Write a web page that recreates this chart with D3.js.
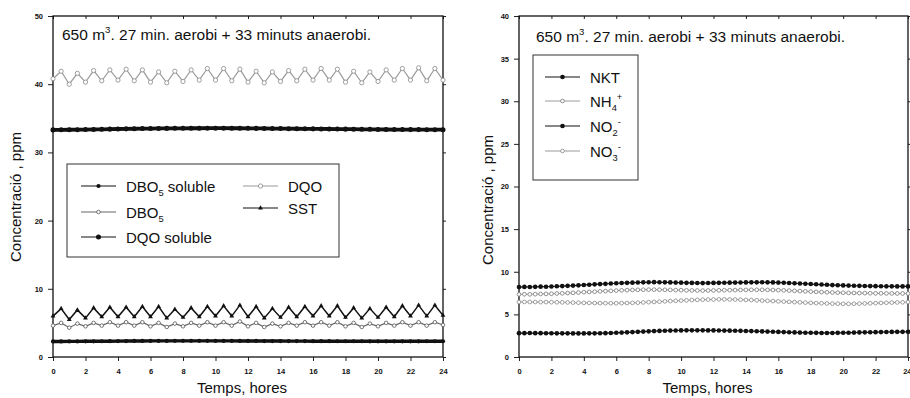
<!DOCTYPE html>
<html>
<head>
<meta charset="utf-8">
<script src="https://cdn.jsdelivr.net/npm/d3@7"></script>
<style>
  body { margin: 0; background: #fff; }
  svg { display: block; }
  text { font-family: "Liberation Sans", Arial, sans-serif; fill: #111; }
</style>
</head>
<body>
<svg id="chart" width="910" height="398"></svg>
<script>
// Sampling times (hours)
const timeHalfHour = d3.range(0, 24.001, 0.5);          // 49 samples
const timeThirdHour = d3.range(0, 73).map(i => i / 3);  // 73 samples

// Axis ticks
const xTicks = [0, 2, 4, 6, 8, 10, 12, 14, 16, 18, 20, 22, 24];
const leftYTicks = [0, 10, 20, 30, 40, 50];
const rightYTicks = [0, 5, 10, 15, 20, 25, 30, 35, 40];

// Organic load series (ppm), every half hour
const dbo5Soluble = [2.28,2.28,2.29,2.29,2.30,2.30,2.31,2.32,2.33,2.34,
  2.35,2.35,2.36,2.36,2.36,2.37,2.37,2.37,2.37,2.37,
  2.36,2.36,2.36,2.35,2.35,2.35,2.34,2.34,2.34,2.33,
  2.33,2.33,2.32,2.32,2.32,2.31,2.31,2.31,2.31,2.30,
  2.30,2.30,2.30,2.30,2.30,2.30,2.31,2.31,2.31];
const dbo5 = [4.6,5.0,4.3,4.9,4.5,5.0,4.6,5.1,4.6,5.1,
  4.6,5.1,4.5,5.0,4.4,4.9,4.5,5.0,4.6,5.1,
  4.6,5.1,4.6,5.2,4.5,5.0,4.4,4.9,4.5,5.0,
  4.6,5.1,4.6,5.1,4.6,5.1,4.5,5.0,4.4,4.9,
  4.5,5.0,4.6,5.1,4.6,5.1,4.6,5.1,4.7];
const dqoSoluble = [33.30,33.31,33.32,33.33,33.35,33.37,33.39,33.41,33.43,33.45,
  33.47,33.49,33.50,33.51,33.52,33.53,33.53,33.54,33.54,33.55,
  33.55,33.55,33.54,33.54,33.53,33.52,33.51,33.50,33.49,33.48,
  33.47,33.46,33.45,33.44,33.43,33.42,33.41,33.40,33.39,33.38,
  33.37,33.36,33.35,33.35,33.34,33.34,33.33,33.33,33.33];
const dqo = [40.8,41.9,40.0,41.6,40.3,42.0,40.5,42.1,40.6,42.2,
  40.5,42.1,40.3,41.8,40.2,41.9,40.4,42.1,40.6,42.3,
  40.6,42.3,40.5,42.2,40.3,41.9,40.2,41.8,40.4,42.0,
  40.5,42.2,40.6,42.3,40.6,42.2,40.3,41.9,40.2,41.8,
  40.4,42.1,40.6,42.3,40.6,42.4,40.5,42.3,40.6];
const sst = [6.0,7.1,5.5,6.9,5.7,7.2,5.9,7.3,5.9,7.3,
  5.9,7.4,5.9,7.4,5.7,7.0,5.8,7.2,5.9,7.4,
  6.0,7.5,6.0,7.6,5.9,7.4,5.7,7.1,5.8,7.3,
  5.9,7.4,6.0,7.5,6.0,7.5,5.8,7.2,5.7,7.1,
  5.8,7.3,5.9,7.5,6.0,7.6,6.0,7.6,6.1];

// Nitrogen series (ppm), every 20 minutes
const nkt = [8.20,8.22,8.21, 8.23,8.25,8.24, 8.27,8.30,8.32, 8.35,8.38,8.41,
  8.45,8.48,8.52, 8.55,8.58,8.62, 8.65,8.68,8.70, 8.72,8.74,8.76,
  8.77,8.78,8.77, 8.76,8.75,8.73, 8.72,8.70,8.69, 8.68,8.67,8.68,
  8.69,8.70,8.71, 8.72,8.73,8.74, 8.75,8.76,8.76, 8.77,8.76,8.75,
  8.73,8.71,8.68, 8.65,8.62,8.59, 8.56,8.53,8.50, 8.47,8.44,8.42,
  8.40,8.38,8.36, 8.35,8.33,8.32, 8.31,8.30,8.29, 8.29,8.28,8.28, 8.28];
const nh4 = [7.35,7.36,7.35, 7.37,7.39,7.40, 7.42,7.45,7.47, 7.50,7.53,7.56,
  7.60,7.63,7.66, 7.70,7.73,7.76, 7.79,7.82,7.84, 7.86,7.88,7.89,
  7.90,7.90,7.89, 7.88,7.87,7.85, 7.84,7.82,7.81, 7.80,7.79,7.80,
  7.81,7.82,7.83, 7.84,7.85,7.86, 7.87,7.88,7.88, 7.88,7.87,7.86,
  7.84,7.82,7.79, 7.76,7.73,7.70, 7.67,7.64,7.61, 7.59,7.57,7.55,
  7.54,7.52,7.51, 7.50,7.49,7.48, 7.47,7.47,7.46, 7.46,7.45,7.45, 7.45];
const no2 = [2.80,2.80,2.81, 2.80,2.80,2.79, 2.79,2.78,2.78, 2.78,2.77,2.77,
  2.77,2.78,2.78, 2.79,2.80,2.82, 2.84,2.86,2.89, 2.92,2.95,2.98,
  3.01,3.04,3.06, 3.08,3.10,3.11, 3.12,3.13,3.13, 3.13,3.13,3.12,
  3.12,3.11,3.10, 3.09,3.08,3.07, 3.05,3.04,3.02, 3.00,2.98,2.96,
  2.94,2.92,2.90, 2.88,2.86,2.85, 2.84,2.83,2.82, 2.82,2.82,2.83,
  2.84,2.85,2.86, 2.88,2.89,2.90, 2.91,2.92,2.93, 2.94,2.95,2.95, 2.96];
const no3 = [6.45,6.46,6.45, 6.45,6.44,6.44, 6.43,6.42,6.41, 6.40,6.38,6.37,
  6.35,6.34,6.33, 6.32,6.31,6.31, 6.31,6.32,6.33, 6.35,6.37,6.40,
  6.43,6.46,6.49, 6.53,6.56,6.59, 6.62,6.65,6.68, 6.70,6.72,6.74,
  6.75,6.76,6.76, 6.75,6.74,6.72, 6.70,6.68,6.65, 6.62,6.59,6.56,
  6.53,6.50,6.47, 6.44,6.41,6.38, 6.35,6.32,6.30, 6.28,6.26,6.25,
  6.24,6.24,6.25, 6.26,6.28,6.30, 6.32,6.34,6.36, 6.38,6.40,6.42, 6.44];

const GRAY = "#9a9a9a";
const svg = d3.select("#chart");

// Styles for each series: line colour/width and marker
const styles = {
  dbo5Soluble: { stroke: "#111", width: 3.4, symbol: d3.symbolCircle, size: 14, fill: "#111", mstroke: "none" },
  dbo5:        { stroke: "#666", width: 1.2, symbol: d3.symbolCircle, size: 10, fill: "#fff", mstroke: "#555" },
  dqoSoluble:  { stroke: "#111", width: 3.8, symbol: d3.symbolCircle, size: 20, fill: "#111", mstroke: "none" },
  dqo:         { stroke: GRAY,   width: 1.2, symbol: d3.symbolCircle, size: 14, fill: "#fff", mstroke: "#888" },
  sst:         { stroke: "#111", width: 1.5, symbol: d3.symbolTriangle, size: 10, fill: "#111", mstroke: "none" },
  nkt:         { stroke: "#111", width: 1.2, symbol: d3.symbolCircle, size: 17, fill: "#111", mstroke: "none" },
  nh4:         { stroke: GRAY,   width: 1.0, symbol: d3.symbolCircle, size: 11, fill: "#fff", mstroke: "#777" },
  no2:         { stroke: "#111", width: 1.2, symbol: d3.symbolCircle, size: 17, fill: "#111", mstroke: "none" },
  no3:         { stroke: GRAY,   width: 1.0, symbol: d3.symbolCircle, size: 11, fill: "#fff", mstroke: "#888" }
};

// Rich text helper: parts are [text, "sub"|"sup"|undefined];
// the baseline shift of a sub/superscript is undone on the following part.
function richText(sel, parts, size) {
  let shift = 0;
  parts.forEach(([t, mode]) => {
    const ts = sel.append("tspan").text(t);
    let target = 0;
    if (mode === "sub") { target = size * 0.3; ts.attr("font-size", size * 0.62); }
    if (mode === "sup") { target = -size * 0.42; ts.attr("font-size", size * 0.62); }
    if (target !== shift) ts.attr("dy", target - shift);
    shift = target;
  });
}

function drawPanel(cfg) {
  const x = d3.scaleLinear().domain([0, 24]).range([cfg.x0, cfg.x1]);
  const y = d3.scaleLinear().domain([0, cfg.ymax]).range([357, 16]);
  const g = svg.append("g");

  const tickStyle = a => {
    a.select(".domain").remove();
    a.selectAll("line").attr("stroke", "#222").attr("stroke-width", 1);
    a.selectAll("text").attr("font-size", 7.5).attr("font-weight", "bold")
      .attr("fill", "#222").style("font-family", "Liberation Sans, Arial, sans-serif");
  };
  const bottom = g.append("g").attr("transform", "translate(0,357)")
    .call(d3.axisBottom(x).tickValues(xTicks).tickSize(4).tickPadding(8))
    .call(tickStyle);
  if (cfg.clipLastTick) {
    bottom.selectAll(".tick text").filter(d => d === 24).attr("text-anchor", "end").attr("dx", 3);
  }
  g.append("g").attr("transform", `translate(${cfg.x0},0)`)
    .call(d3.axisLeft(y).tickValues(cfg.yTicks).tickSize(5).tickPadding(5))
    .call(tickStyle);
  g.append("g").attr("transform", "translate(0,16)")
    .call(d3.axisTop(x).tickValues(xTicks).tickSize(-3).tickFormat(""))
    .call(tickStyle);
  g.append("g").attr("transform", `translate(${cfg.x1},0)`)
    .call(d3.axisRight(y).tickValues(cfg.yTicks).tickSize(3).tickFormat(""))
    .call(tickStyle);

  // frame
  g.append("rect").attr("x", cfg.x0).attr("y", 16)
    .attr("width", cfg.x1 - cfg.x0).attr("height", 341)
    .attr("fill", "none").attr("stroke", "#111").attr("stroke-width", 1.3);

  // series
  cfg.series.forEach(s => {
    const st = styles[s.key];
    const pts = s.values.map((v, i) => [s.time[i], v]);
    g.append("path").datum(pts)
      .attr("fill", "none").attr("stroke", st.stroke).attr("stroke-width", st.width)
      .attr("d", d3.line().x(d => x(d[0])).y(d => y(d[1])));
    g.selectAll(null).data(pts).enter().append("path")
      .attr("transform", d => `translate(${x(d[0])},${y(d[1])})`)
      .attr("d", d3.symbol().type(st.symbol).size(st.size))
      .attr("fill", st.fill).attr("stroke", st.mstroke).attr("stroke-width", 0.8);
  });

  // title
  const t = g.append("text").attr("x", cfg.titleX).attr("y", cfg.titleY)
    .attr("font-size", 15.5);
  richText(t, [["650 m"], ["3", "sup"], [". 27 min. aerobi + 33 minuts anaerobi."]], 15.5);

  // axis titles
  g.append("text").attr("x", (cfg.x0 + cfg.x1) / 2 - 6).attr("y", 393)
    .attr("text-anchor", "middle").attr("font-size", 15).text("Temps, hores");
  g.append("text").attr("transform", `translate(${cfg.yLabelX},${cfg.yLabelY}) rotate(-90)`)
    .attr("text-anchor", "middle").attr("font-size", 15).text("Concentració , ppm");

  // legend
  const L = cfg.legend;
  g.append("rect").attr("x", L.box[0]).attr("y", L.box[1])
    .attr("width", L.box[2]).attr("height", L.box[3])
    .attr("fill", "#fff").attr("stroke", "#333").attr("stroke-width", 1);
  L.items.forEach(it => {
    const st = styles[it.key];
    g.append("line").attr("x1", it.x).attr("x2", it.x + it.len)
      .attr("y1", it.y).attr("y2", it.y)
      .attr("stroke", st.stroke).attr("stroke-width", Math.min(st.width, 1.2));
    g.append("path").attr("transform", `translate(${it.x + it.len / 2},${it.y})`)
      .attr("d", d3.symbol().type(st.symbol).size(st.size))
      .attr("fill", st.fill).attr("stroke", st.mstroke).attr("stroke-width", 0.8);
    const tx = g.append("text").attr("x", it.x + it.len + 10).attr("y", it.y + 5.5)
      .attr("font-size", 15);
    richText(tx, it.label, 15);
  });
}

drawPanel({
  x0: 53, x1: 443, ymax: 50, yTicks: leftYTicks,
  titleX: 62, titleY: 40, yLabelX: 21, yLabelY: 197,
  series: [
    { key: "dqo", time: timeHalfHour, values: dqo },
    { key: "dqoSoluble", time: timeHalfHour, values: dqoSoluble },
    { key: "dbo5", time: timeHalfHour, values: dbo5 },
    { key: "sst", time: timeHalfHour, values: sst },
    { key: "dbo5Soluble", time: timeHalfHour, values: dbo5Soluble }
  ],
  legend: {
    box: [67, 164, 272, 93],
    items: [
      { key: "dbo5Soluble", x: 81, len: 35, y: 186, label: [["DBO"], ["5", "sub"], [" soluble"]] },
      { key: "dbo5", x: 81, len: 35, y: 212, label: [["DBO"], ["5", "sub"]] },
      { key: "dqoSoluble", x: 81, len: 35, y: 237, label: [["DQO soluble"]] },
      { key: "dqo", x: 243, len: 35, y: 186, label: [["DQO"]] },
      { key: "sst", x: 243, len: 35, y: 208, label: [["SST"]] }
    ]
  }
});

drawPanel({
  x0: 519, x1: 908, ymax: 40, yTicks: rightYTicks, clipLastTick: true,
  titleX: 536, titleY: 42, yLabelX: 493, yLabelY: 200,
  series: [
    { key: "nh4", time: timeThirdHour, values: nh4 },
    { key: "no3", time: timeThirdHour, values: no3 },
    { key: "nkt", time: timeThirdHour, values: nkt },
    { key: "no2", time: timeThirdHour, values: no2 }
  ],
  legend: {
    box: [533, 55, 105, 125],
    items: [
      { key: "nkt", x: 545, len: 35, y: 77, label: [["NKT"]] },
      { key: "nh4", x: 545, len: 35, y: 101, label: [["NH"], ["4", "sub"], ["+", "sup"]] },
      { key: "no2", x: 545, len: 35, y: 126, label: [["NO"], ["2", "sub"], ["-", "sup"]] },
      { key: "no3", x: 545, len: 35, y: 151, label: [["NO"], ["3", "sub"], ["-", "sup"]] }
    ]
  }
});
</script>
</body>
</html>
